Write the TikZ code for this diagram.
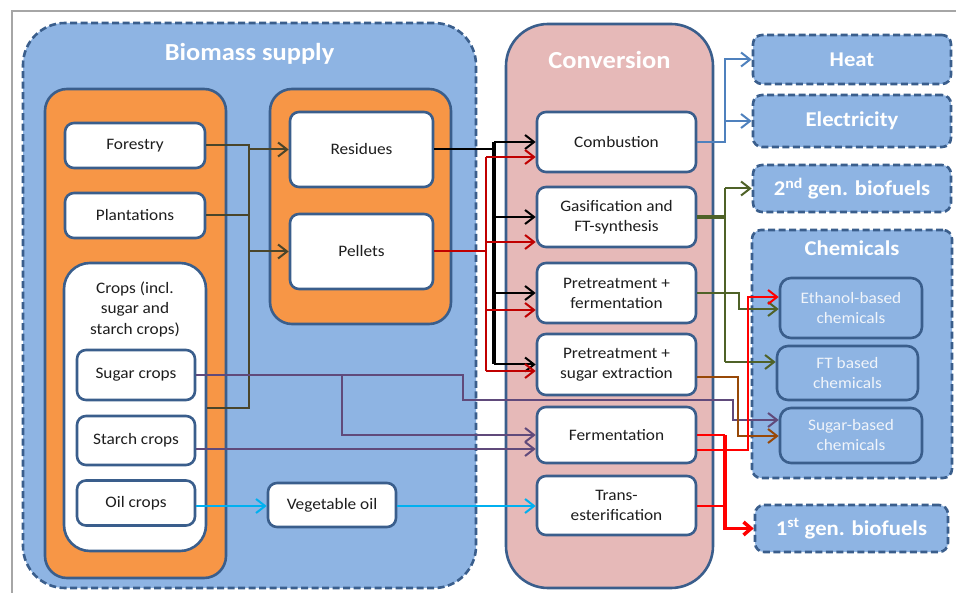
\documentclass[tikz,border=0pt]{standalone}
\usepackage{fontspec}
\setmainfont{Carlito}[FakeStretch=1.08]
\usetikzlibrary{arrows.meta,calc}
\definecolor{bluef}{HTML}{8EB4E3}
\definecolor{bord}{HTML}{3A5E8C}
\definecolor{orangef}{HTML}{F79646}
\definecolor{pinkf}{HTML}{E6B9B8}
\definecolor{txt}{HTML}{1E1E1E}
\definecolor{chtxt}{HTML}{F0F4FA}
\definecolor{olivec}{HTML}{4A452A}
\definecolor{greenc}{HTML}{4F6228}
\definecolor{brownc}{HTML}{984807}
\definecolor{purplec}{HTML}{604A7B}
\definecolor{redc}{HTML}{FF0000}
\definecolor{darkredc}{HTML}{C00000}
\definecolor{cyanc}{HTML}{00B0F0}
\definecolor{bluec}{HTML}{4F81BD}
\definecolor{framec}{HTML}{A6A6A6}
\begin{document}
\begin{tikzpicture}[x=1pt,y=-1pt,
  dashbox/.style={draw=bord, line width=2.6pt, dash pattern=on 7pt off 3.5pt, fill=bluef},
  grpbox/.style={draw=bord, line width=2.6pt, fill=orangef, rounded corners=22pt, inner sep=0pt},
  wbox/.style={draw=bord, line width=2.6pt, fill=white, rounded corners=9pt, inner sep=0pt, align=center, text=txt, font=\fontsize{16}{20}\selectfont},
  outbox/.style={dashbox, rounded corners=9pt, inner sep=0pt, text=white, font=\fontsize{21}{24}\selectfont\bfseries},
  chembox/.style={draw=bord, line width=2.6pt, fill=bluef, rounded corners=11pt, inner sep=0pt, align=center, text=chtxt, font=\fontsize{16}{20}\selectfont},
  titletext/.style={text=white, font=\fontsize{24.5}{28}\selectfont\bfseries},
  conn/.style={line width=2pt},
  arr/.style={-{Straight Barb[length=9pt,width=14pt]}},
  bigarr/.style={-{Straight Barb[length=7.5pt,width=13pt]}},
  blk/.style={conn, draw=black},
  drd/.style={conn, draw=darkredc},
  rdl/.style={conn, draw=redc},
  olv/.style={conn, draw=olivec},
  pur/.style={conn, draw=purplec},
  grn/.style={conn, draw=greenc},
  brn/.style={conn, draw=brownc},
  cyn/.style={conn, draw=cyanc},
  blu/.style={conn, draw=bluec},
]
\useasboundingbox (0,0) rectangle (956,593);
% frame
\draw[framec, line width=1.5pt] (12,593) -- (12,11) -- (956,11);

% big containers
\node[dashbox, rounded corners=42pt, minimum width=453pt, minimum height=565pt, inner sep=0pt] (biomass) at (249.5,305.5) {};
\node[titletext] (biomasst) at (249.5,54) {Biomass supply};
\node[draw=bord, line width=2.6pt, fill=pinkf, rounded corners=42pt, minimum width=207pt, minimum height=564pt, inner sep=0pt] (conversion) at (609.5,306) {};
\node[titletext] (conversiont) at (609.5,60) {Conversion};

% orange groups
\node[grpbox, minimum width=181pt, minimum height=489pt] (orange1) at (135.5,333.5) {};
\node[grpbox, minimum width=181pt, minimum height=235pt] (orange2) at (360.5,206.5) {};

% biomass boxes
\node[wbox, minimum width=140pt, minimum height=45pt] (forestry) at (135,145.5) {Forestry};
\node[wbox, minimum width=140pt, minimum height=45pt] (plantations) at (135,215.5) {Plantations};
\node[wbox, rounded corners=26pt, minimum width=142pt, minimum height=288pt] (crops) at (135,407) {};
\node[align=center, text=txt, font=\fontsize{16}{20.5}\selectfont, inner sep=0pt] (cropst) at (135,309) {Crops (incl.\\sugar and\\starch crops)};
\node[wbox, minimum width=118pt, minimum height=50pt] (sugar) at (136,375) {Sugar crops};
\node[wbox, minimum width=118pt, minimum height=49pt] (starch) at (136,440.5) {Starch crops};
\node[wbox, minimum width=118pt, minimum height=45pt] (oil) at (136,503) {Oil crops};
\node[wbox, minimum width=143pt, minimum height=75pt] (residues) at (361.5,149.5) {Residues};
\node[wbox, minimum width=143pt, minimum height=75pt] (pellets) at (361.5,251.5) {Pellets};
\node[wbox, minimum width=128pt, minimum height=44pt] (vegoil) at (332,505) {Vegetable oil};

% conversion boxes
\node[wbox, minimum width=159pt, minimum height=60pt] (combustion) at (616.5,142) {Combustion};
\node[wbox, minimum width=159pt, minimum height=60pt] (gasif) at (616.5,217) {Gasification and\\FT-synthesis};
\node[wbox, minimum width=159pt, minimum height=60pt] (pferm) at (616.5,293) {Pretreatment +\\fermentation};
\node[wbox, minimum width=159pt, minimum height=61pt] (psugar) at (616.5,364.5) {Pretreatment +\\sugar extraction};
\node[wbox, minimum width=159pt, minimum height=56pt] (ferm) at (616.5,435) {Fermentation};
\node[wbox, minimum width=159pt, minimum height=59pt] (trans) at (616.5,505.5) {Trans-\\esterification};

% outputs
\node[outbox, minimum width=198pt, minimum height=49pt] (heat) at (852,59.5) {Heat};
\node[outbox, minimum width=198pt, minimum height=52pt] (elec) at (852,121) {Electricity};
\node[outbox, minimum width=198pt, minimum height=47pt] (gen2) at (852,188.5) {2\textsuperscript{nd} gen. biofuels};
\node[dashbox, rounded corners=9pt, minimum width=200pt, minimum height=248pt, inner sep=0pt] (chem) at (852,354) {};
\node[text=white, font=\fontsize{21}{24}\selectfont\bfseries] (chemt) at (852,248) {Chemicals};
\node[chembox, minimum width=142pt, minimum height=60pt] (ethanol) at (851,308) {Ethanol-based\\chemicals};
\node[chembox, minimum width=141pt, minimum height=54pt] (ftchem) at (847.5,373) {FT based\\chemicals};
\node[chembox, minimum width=142pt, minimum height=55pt] (sugchem) at (851,435.5) {Sugar-based\\chemicals};
\node[outbox, minimum width=193pt, minimum height=47pt] (gen1) at (851.5,528.5) {1\textsuperscript{st} gen. biofuels};

% helper coordinates
\coordinate (ob) at (249,0);
\coordinate (o3) at (0,408);
\coordinate (bk) at (494,0);
\coordinate (rd) at (486,0);
\coordinate (r1) at (0,157);
\coordinate (r2) at (0,242);
\coordinate (r3) at (0,310);
\coordinate (r4) at (0,371);
\coordinate (bx) at (725,0);
\coordinate (cy) at (0,506);
\coordinate (pj) at (342,375);
\coordinate (p1) at (463,400);
\coordinate (p2) at (733,420);
\coordinate (p3) at (0,449);
\coordinate (g2) at (0,362);
\coordinate (g3) at (739,309);
\coordinate (b1) at (0,377);
\coordinate (b2) at (738,436);
\coordinate (e1) at (0,450);
\coordinate (e2) at (748,297);

% olive: sources to residues / pellets
\draw[olv] (forestry.east) -| (ob |- o3) -- (crops.east |- o3);
\draw[olv] (plantations.east) -- (plantations.east -| ob);
\draw[olv,arr] (ob |- residues.west) -- (residues.west);
\draw[olv,arr] (ob |- pellets.west) -- (pellets.west);

% cyan
\draw[cyn,arr] (oil.east |- cy) -- (vegoil.west |- cy);
\draw[cyn,arr] (vegoil.east |- cy) -- (trans.west |- cy);

% purple
\draw[pur,arr] (sugar.east) -| (p1) -| (p2) -- (sugchem.west |- p2);
\draw[pur,arr] (pj) |- (ferm.west);
\draw[pur,arr] (starch.east |- p3) -- (ferm.west |- p3);

% black from residues
\draw[blk] (residues.east) -- (residues.east -| bk);
\draw[draw=black, line width=3.5pt] (bk |- combustion.west) -- (bk |- psugar.west);
\draw[blk,arr] (bk |- combustion.west) -- (combustion.west);
\draw[blk,arr] (bk |- gasif.west) -- (gasif.west);
\draw[blk,arr] (bk |- pferm.west) -- (pferm.west);
\draw[blk,arr] (bk |- psugar.west) -- (psugar.west);

% dark red from pellets
\draw[drd] (pellets.east) -- (pellets.east -| rd);
\draw[drd] (rd |- r1) -- (rd |- r4);
\draw[drd,arr] (rd |- r1) -- (combustion.west |- r1);
\draw[drd,arr] (rd |- r2) -- (gasif.west |- r2);
\draw[drd,arr] (rd |- r3) -- (pferm.west |- r3);
\draw[drd,arr] (rd |- r4) -- (psugar.west |- r4);

% blue from combustion
\draw[blu,arr] (combustion.east) -| (bx |- heat.west) -- (heat.west);
\draw[blu,arr] (bx |- elec.west) -- (elec.west);

% green
\draw[draw=greenc, line width=4pt] (gasif.east) -- (gasif.east -| bx);
\draw[grn] (bx |- gen2.west) -- (bx |- g2);
\draw[grn,arr] (bx |- gen2.west) -- (gen2.west);
\draw[grn,arr] (bx |- g2) -- (ftchem.west |- g2);
\draw[grn,arr] (pferm.east) -| (g3) -- (ethanol.west |- g3);

% brown
\draw[brn,arr] (psugar.east |- b1) -| (b2) -- (sugchem.west |- b2);

% red from fermentation / trans-esterification
\draw[rdl] (ferm.east) -- (ferm.east -| bx);
\draw[rdl] (trans.east) -- (trans.east -| bx);
\draw[draw=redc, line width=3.5pt, bigarr] (bx |- ferm.east) |- (gen1.west);
\draw[rdl,arr] (ferm.east |- e1) -| (e2) -- (ethanol.west |- e2);
\end{tikzpicture}
\end{document}
